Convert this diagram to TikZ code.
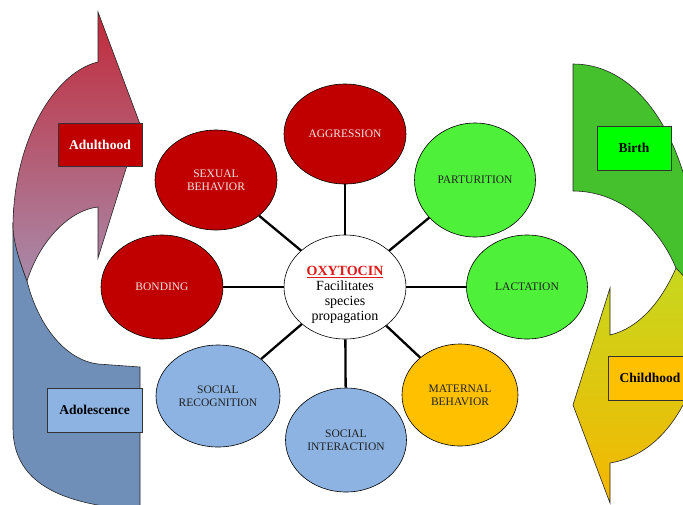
\documentclass[tikz,border=0pt]{standalone}
\usepackage{fontspec}
\setmainfont{Liberation Serif}
\usetikzlibrary{shapes.geometric}

\definecolor{redfill}{HTML}{C00000}
\definecolor{redtext}{HTML}{F4E4E4}
\definecolor{greenfill}{HTML}{4EF03A}
\definecolor{orangefill}{HTML}{FFC000}
\definecolor{bluefill}{HTML}{8DB3E2}
\definecolor{darktext}{HTML}{222222}
\definecolor{oxred}{HTML}{E01818}
\definecolor{greenband}{HTML}{44C12C}
\definecolor{blueband}{HTML}{6F8FB9}
\definecolor{redtop}{HTML}{C22A3A}
\definecolor{redbottom}{HTML}{A88AAA}
\definecolor{yellowtop}{HTML}{C6D81E}
\definecolor{yellowbottom}{HTML}{F6B600}
\definecolor{birthfill}{HTML}{00FF00}

\begin{document}
\begin{tikzpicture}[x=1pt,y=-1pt,
  band/.style={draw=black!85, line width=0.6pt},
  bubble/.style={ellipse, draw=black, line width=0.6pt, inner sep=0pt,
    align=center, font=\fontsize{11.5}{13}\selectfont},
  redbub/.style={bubble, fill=redfill, text=redtext},
  greenbub/.style={bubble, fill=greenfill, text=darktext},
  orangebub/.style={bubble, fill=orangefill, text=darktext},
  bluebub/.style={bubble, fill=bluefill, text=darktext},
  spoke/.style={line width=2.3pt, black},
  stage/.style={draw=black!80, line width=0.6pt, inner sep=0pt,
    font=\bfseries\fontsize{13.5}{15}\selectfont}
]
\useasboundingbox (0,0) rectangle (683,504);

\begin{scope}
\clip (0,0) rectangle (683,504);

% adolescence band (blue)
\path[band, fill=blueband]
  (13,222) -- (13,428) .. controls (13,482) and (60,500) .. (110,507)
  -- (140,512) -- (140,367) -- (98,364)
  .. controls (65,360) and (38,325) .. (27,281)
  .. controls (20,262) and (14,245) .. (13,222) -- cycle;

% adulthood arrow (red, shaded)
\path[band, top color=redtop, bottom color=redbottom]
  (98,12) -- (140,124) -- (98,258) -- (98,207)
  .. controls (70,210) and (40,240) .. (27,281)
  .. controls (20,262) and (14,245) .. (13,228)
  .. controls (13,140) and (55,72) .. (98,62) -- cycle;

% birth band (green)
\path[band, fill=greenband]
  (573,64) -- (573,191) .. controls (620,191) and (658,225) .. (676,268)
  -- (692,300) -- (692,200) -- (688,190)
  .. controls (668,110) and (625,64) .. (573,64) -- cycle;

% childhood arrow (yellow to orange)
\path[band, top color=yellowtop, bottom color=yellowbottom]
  (610,288) -- (573,405) -- (610,503) -- (610,463)
  .. controls (640,458) and (668,438) .. (688,395)
  -- (692,285) -- (676,268)
  .. controls (662,300) and (640,328) .. (610,335) -- cycle;
\end{scope}

% stage labels
\node[stage, fill=redfill, text=white, minimum width=84pt, minimum height=43pt]
  (adult) at (100,144.5) {Adulthood};
\node[stage, fill=bluefill, text=black, minimum width=95pt, minimum height=44pt]
  (adol) at (94.5,410) {Adolescence};
\node[stage, fill=birthfill, text=black, minimum width=74pt, minimum height=44pt]
  (birth) at (634,148) {Birth};
\node[stage, fill=orangefill, text=black, minimum width=84pt, minimum height=44pt]
  (child) at (650,378) {Childhood};

% central hub and its caption
\node[bubble, fill=white, minimum width=122pt, minimum height=104pt] (oxy) at (345,287) {};
\node[align=center, inner sep=0pt, font=\fontsize{14}{15}\selectfont] (oxytext) at (345,295)
  {{\bfseries\color{oxred}\underline{OXYTOCIN}}\\Facilitates\\species\\propagation};

% surrounding effects
\node[redbub, minimum width=122pt, minimum height=100pt] (agg) at (345,134) {AGGRESSION};
\node[greenbub, minimum width=121pt, minimum height=114pt] (part) at (475,180) {PARTURITION};
\node[greenbub, minimum width=121pt, minimum height=104pt] (lact) at (527,287) {LACTATION};
\node[orangebub, minimum width=116pt, minimum height=102pt] (mat) at (460,395) {MATERNAL\\BEHAVIOR};
\node[bluebub, minimum width=121pt, minimum height=104pt] (sint) at (346,440) {SOCIAL\\INTERACTION};
\node[bluebub, minimum width=124pt, minimum height=102pt] (srec) at (218,396) {SOCIAL\\RECOGNITION};
\node[redbub, minimum width=122pt, minimum height=104pt] (bond) at (162,287) {BONDING};
\node[redbub, minimum width=122pt, minimum height=100pt] (sex) at (216,180) {SEXUAL\\BEHAVIOR};

% spokes from the hub
\foreach \n in {agg,part,lact,mat,sint,srec,bond,sex}
  \draw[spoke] (oxy) -- (\n);
\end{tikzpicture}
\end{document}
